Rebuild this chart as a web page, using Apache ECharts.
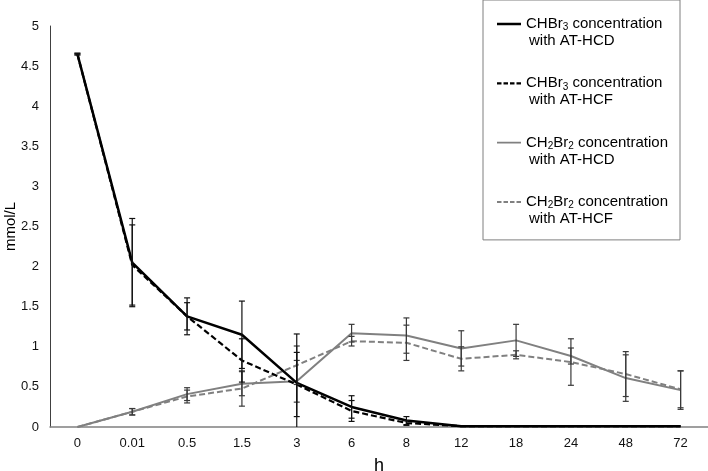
<!DOCTYPE html>
<html>
<head>
<meta charset="utf-8">
<script src="https://cdn.jsdelivr.net/npm/echarts@6/dist/echarts.min.js"></script>
<style>
html,body{margin:0;padding:0;background:#fff;}
#chart{width:708px;height:471px;}
</style>
</head>
<body>
<div id="chart"></div>
<script>
// ---- data ----
var categories = ['0', '0.01', '0.5', '1.5', '3', '6', '8', '12', '18', '24', '48', '72'];

var chbr3HCD = [4.65, 2.05, 1.38, 1.15, 0.55, 0.25, 0.08, 0.01, 0.01, 0.01, 0.01, 0.01];
var chbr3HCF = [4.65, 2.02, 1.38, 0.83, 0.53, 0.20, 0.05, 0.01, 0.01, 0.01, 0.01, 0.01];
var ch2br2HCD = [0, 0.19, 0.41, 0.54, 0.57, 1.17, 1.14, 0.98, 1.08, 0.885, 0.61, 0.46];
var ch2br2HCF = [0, 0.19, 0.38, 0.48, 0.77, 1.07, 1.05, 0.85, 0.90, 0.81, 0.66, 0.47];

var chbr3HCDErr = [0.01, 0.55, 0.23, 0.42, 0.61, 0.14, 0.05, 0, 0, 0, 0, 0];
var chbr3HCFErr = [0.01, 0.50, 0.17, 0.27, 0.40, 0.13, 0.03, 0, 0, 0, 0, 0];
var ch2br2HCDErr = [0, 0.04, 0.08, 0.15, 0.26, 0.11, 0.22, 0.22, 0.20, 0.10, 0.29, 0.24];
var ch2br2HCFErr = [0, 0.04, 0.08, 0.22, 0.24, 0.06, 0.22, 0.15, 0.05, 0.29, 0.28, 0.23];

var yTicks = { min: 0, max: 5, interval: 0.5 };

var names = ['CHBr3 concentration with AT-HCD', 'CHBr3 concentration with AT-HCF',
             'CH2Br2 concentration with AT-HCD', 'CH2Br2 concentration with AT-HCF'];

// ---- styling ----
var FONT = 'Liberation Sans, Arial, sans-serif';
var BLACK = '#000000';
var GRAY = '#808080';

function errSeries(name, vals, errs, color) {
  return {
    type: 'custom',
    name: name,
    z: 5,
    clip: true,
    silent: true,
    data: vals.map(function (v, i) { return [i, v, errs[i]]; }),
    encode: { x: 0, y: 1 },
    renderItem: function (params, api) {
      var i = api.value(0), v = api.value(1), e = api.value(2);
      if (!e) return null;
      var top = api.coord([i, v + e]);
      var bot = api.coord([i, v - e]);
      var hw = 3;
      var st = { stroke: color, lineWidth: 1.2 };
      return {
        type: 'group',
        children: [
          { type: 'line', shape: { x1: top[0], y1: top[1], x2: bot[0], y2: bot[1] }, style: st },
          { type: 'line', shape: { x1: top[0] - hw, y1: top[1], x2: top[0] + hw, y2: top[1] }, style: st },
          { type: 'line', shape: { x1: bot[0] - hw, y1: bot[1], x2: bot[0] + hw, y2: bot[1] }, style: st }
        ]
      };
    }
  };
}

function lineSeries(name, vals, color, width, dashed) {
  return {
    type: 'line',
    name: name,
    data: vals,
    symbol: 'none',
    z: 3,
    itemStyle: { color: color, borderWidth: 0 },
    lineStyle: { color: color, width: width, type: dashed ? [6, 3] : 'solid' }
  };
}

// legend icons: a line at the height of the first text row
var padPts = 'M0,0h0.01v0.01h-0.01Z M0,34h0.01v0.01h-0.01Z ';
function solidIcon(t) { return 'path://' + padPts + 'M0,' + (8.6 - t / 2) + 'h24v' + t + 'h-24Z'; }
function dashIcon(t) {
  var y = 8.6 - t / 2, s = 'path://' + padPts;
  [0, 6.5, 13, 19.5].forEach(function (x) { s += 'M' + x + ',' + y + 'h4.5v' + t + 'h-4.5Z '; });
  return s;
}

var legendText = {};
legendText[names[0]] = '{n|CHBr}{s|3}{n| concentration}\n{i|with AT-HCD}';
legendText[names[1]] = '{n|CHBr}{s|3}{n| concentration}\n{i|with AT-HCF}';
legendText[names[2]] = '{n|CH}{s|2}{n|Br}{s|2}{n| concentration}\n{i|with AT-HCD}';
legendText[names[3]] = '{n|CH}{s|2}{n|Br}{s|2}{n| concentration}\n{i|with AT-HCF}';

var chart = echarts.init(document.getElementById('chart'), null, { renderer: 'canvas' });

var option = {
  animation: false,
  backgroundColor: '#ffffff',
  textStyle: { fontFamily: FONT },
  grid: { left: 50, right: 0, top: 26, bottom: 44, containLabel: false, outerBoundsMode: 'none' },
  legend: {
    orient: 'vertical',
    left: 483,
    top: 0,
    padding: [15.5, 12, 12.5, 14],
    itemGap: 25.3,
    itemWidth: 24,
    itemHeight: 34,
    borderColor: '#7f7f7f',
    borderWidth: 1,
    backgroundColor: '#ffffff',
    itemStyle: { borderWidth: 0 },
    selectedMode: false,
    data: [
      { name: names[0], icon: solidIcon(2.5) },
      { name: names[1], icon: dashIcon(2.2) },
      { name: names[2], icon: solidIcon(1.8) },
      { name: names[3], icon: dashIcon(1.8) }
    ],
    formatter: function (n) { return legendText[n]; },
    textStyle: {
      fontFamily: FONT,
      fontSize: 15,
      color: '#000',
      rich: {
        n: { fontFamily: FONT, fontSize: 15, lineHeight: 17, color: '#000' },
        s: { fontFamily: FONT, fontSize: 10, lineHeight: 6, verticalAlign: 'bottom', color: '#000' },
        i: { fontFamily: FONT, fontSize: 15, lineHeight: 17, color: '#000', padding: [0, 0, 0, 3] }
      }
    }
  },
  xAxis: {
    type: 'category',
    data: categories,
    boundaryGap: true,
    name: 'h',
    nameLocation: 'middle',
    nameGap: 30,
    nameMoveOverlap: false,
    nameTextStyle: { fontFamily: FONT, fontSize: 18, color: '#000' },
    axisLine: { show: true, lineStyle: { color: '#808080', width: 1.5 } },
    axisTick: { show: false },
    axisLabel: { fontFamily: FONT, fontSize: 13, color: '#111', margin: 10, interval: 0 },
    splitLine: { show: false }
  },
  yAxis: {
    type: 'value',
    min: yTicks.min,
    max: yTicks.max,
    interval: yTicks.interval,
    name: 'mmol/L',
    nameLocation: 'middle',
    nameRotate: 90,
    nameGap: 32,
    nameMoveOverlap: false,
    nameTextStyle: { fontFamily: FONT, fontSize: 15, color: '#000' },
    axisLine: { show: true, lineStyle: { color: '#404040', width: 1 } },
    axisTick: { show: false },
    axisLabel: { fontFamily: FONT, fontSize: 13, color: '#111', margin: 11 },
    splitLine: { show: false }
  },
  series: [
    lineSeries(names[2], ch2br2HCD, GRAY, 2, false),
    lineSeries(names[3], ch2br2HCF, GRAY, 2, true),
    lineSeries(names[0], chbr3HCD, BLACK, 2.5, false),
    lineSeries(names[1], chbr3HCF, BLACK, 2.2, true),
    errSeries('err CH2Br2 HCD', ch2br2HCD, ch2br2HCDErr, '#3a3a3a'),
    errSeries('err CH2Br2 HCF', ch2br2HCF, ch2br2HCFErr, '#3a3a3a'),
    errSeries('err CHBr3 HCD', chbr3HCD, chbr3HCDErr, '#111111'),
    errSeries('err CHBr3 HCF', chbr3HCF, chbr3HCFErr, '#111111')
  ]
};

chart.setOption(option);
</script>
</body>
</html>
